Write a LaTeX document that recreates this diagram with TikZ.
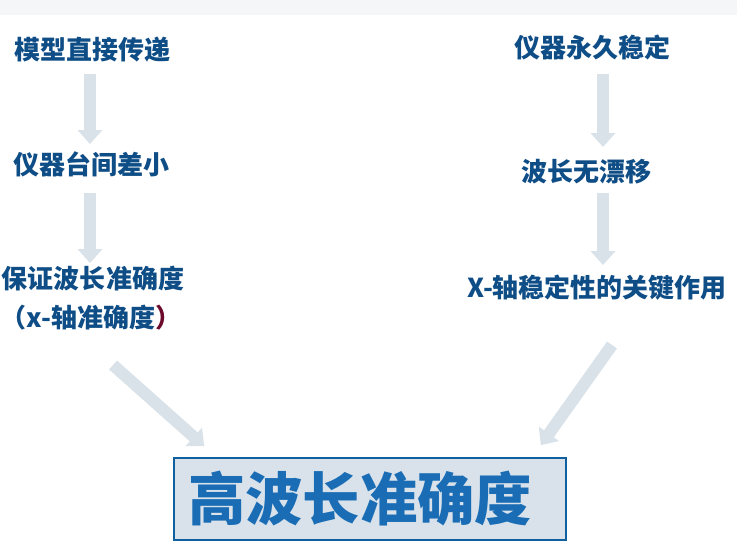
\documentclass[tikz,border=0pt]{standalone}
\usepackage{fontspec}
\newfontfamily\cjk{Noto Sans CJK SC}
\usetikzlibrary{arrows.meta,positioning}
\definecolor{inkblue}{HTML}{0E4D86}
\definecolor{brightblue}{HTML}{1A6DB5}
\definecolor{framblue}{HTML}{1060A0}
\definecolor{boxfill}{HTML}{D9E2EA}
\definecolor{arrowgray}{HTML}{DAE2E9}
\definecolor{topband}{HTML}{F5F6F8}
\definecolor{parenred}{HTML}{6B0A2A}
\tikzset{
  steptext/.style={
    inner sep=0pt,
    text height=0.88em,
    text depth=0.12em,
    font=\cjk\bfseries\fontsize{19.5pt}{22pt}\selectfont,
    text=inkblue
  },
  resultbox/.style={
    draw=framblue,
    fill=boxfill,
    line width=1.2pt,
    inner xsep=10.5pt,
    text width=273pt,
    minimum height=61.5pt,
    align=left,
    font=\cjk\bfseries\fontsize{43pt}{48pt}\selectfont,
    text=brightblue
  },
  flowarrow/.style={-{Triangle[length=10.5pt,width=18pt]},line width=9pt,draw=arrowgray}
}
\begin{document}
\begin{tikzpicture}[x=0.75pt,y=-0.75pt]
  \useasboundingbox (0,0) rectangle (737,552);
  \fill[topband] (0,0) rectangle (737,15);

  % left column
  \node[steptext] (m1)  at (92,54)  {模型直接传递};
  \node[steptext] (m2)  at (91,169) {仪器台间差小};
  \node[steptext] (m3)  at (93,283) {保证波长准确度};
  \node[steptext] (m3b) at (91,322) {（x-轴准确度\textcolor{parenred}{）}};

  % right column
  \node[steptext] (r1) at (592,52)  {仪器永久稳定};
  \node[steptext] (r2) at (586,176) {波长无漂移};
  \node[steptext] (r3) at (597,292) {X-轴稳定性的关键作用};

  % result
  \node[resultbox] (hi) at (370,499) {高波长准确度};

  \draw[flowarrow,shorten <=9.75pt,shorten >=13.5pt] ([xshift=-1.5pt]m1.south) -- ([xshift=-0.75pt]m2.north);
  \draw[flowarrow,shorten <=12.75pt,shorten >=9.75pt] ([xshift=-0.75pt]m2.south) -- ([xshift=-2.25pt]m3.north);
  \draw[flowarrow,shorten <=11.25pt,shorten >=16.5pt] ([xshift=8.25pt]r1.south) -- ([xshift=12.75pt]r2.north);
  \draw[flowarrow,shorten <=7.5pt,shorten >=15pt] ([xshift=12.75pt]r2.south) -- ([xshift=4.5pt]r3.north);

  \coordinate (lt) at (113,365);
  \coordinate (rt) at (612,345);
  \draw[flowarrow] (lt) -- ([shift={(31,-11)}]hi.north west);
  \draw[flowarrow] (rt) -- ([shift={(-26,-12)}]hi.north east);
\end{tikzpicture}
\end{document}
